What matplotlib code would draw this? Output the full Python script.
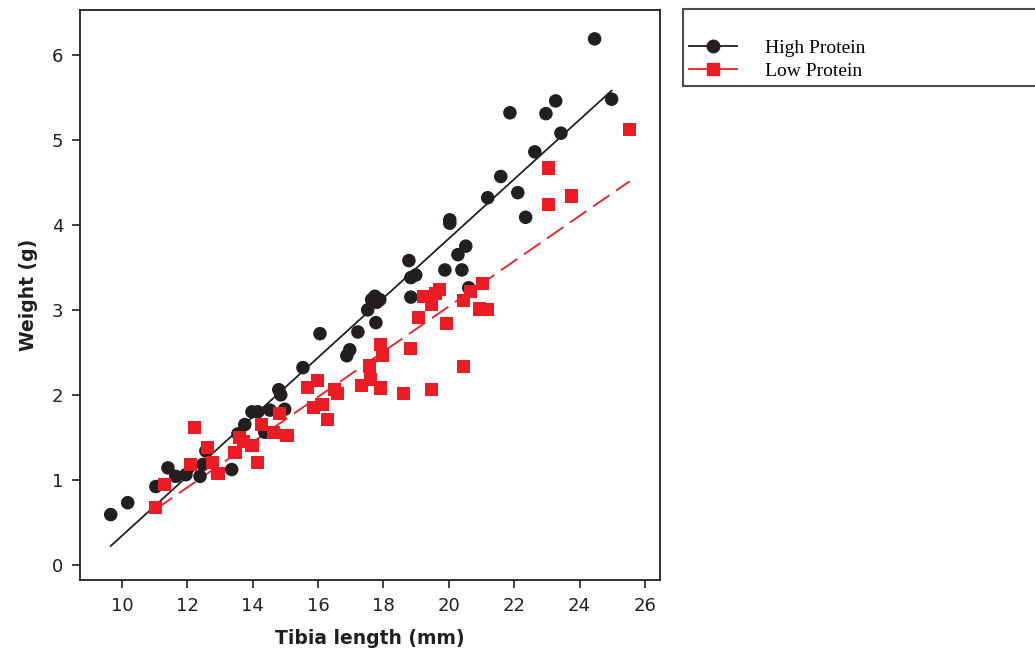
import matplotlib
matplotlib.use('Agg')
import matplotlib.pyplot as plt
import numpy as np
from matplotlib.lines import Line2D

# High Protein group (tibia length mm, weight g)
high_tibia = [9.66, 10.18, 11.04, 11.41, 11.65, 11.96, 12.39, 12.48, 12.57, 13.36,
              13.55, 13.76, 13.98, 14.16, 14.37, 14.53, 14.80, 14.86, 14.98, 15.54,
              16.06, 16.88, 16.97, 17.22, 17.52, 17.64, 17.74, 17.80, 17.77, 17.89,
              18.78, 18.84, 18.99, 18.84, 19.88, 20.03, 20.03, 20.28, 20.40, 20.52,
              20.61, 21.19, 21.59, 21.87, 22.11, 22.35, 22.63, 22.97, 23.27, 23.43,
              24.46, 24.98]
high_weight = [0.59, 0.73, 0.92, 1.14, 1.04, 1.06, 1.04, 1.18, 1.34, 1.12,
               1.54, 1.65, 1.80, 1.80, 1.56, 1.82, 2.06, 2.00, 1.83, 2.32,
               2.72, 2.46, 2.53, 2.74, 3.00, 3.12, 3.16, 3.09, 2.85, 3.12,
               3.58, 3.38, 3.41, 3.15, 3.47, 4.06, 4.02, 3.65, 3.47, 3.75,
               3.26, 4.32, 4.57, 5.32, 4.38, 4.09, 4.86, 5.31, 5.46, 5.08,
               6.19, 5.48]

# Low Protein group
low_tibia = [11.04, 11.31, 12.23, 12.11, 12.63, 12.78, 12.94, 13.46, 13.61, 13.73,
             13.98, 14.16, 14.28, 14.65, 14.83, 15.05, 15.69, 15.87, 15.99, 16.12,
             16.30, 16.51, 16.60, 17.34, 17.58, 17.61, 17.92, 17.98, 17.92, 18.62,
             18.84, 19.08, 19.24, 19.48, 19.48, 19.60, 19.72, 19.94, 20.46, 20.46,
             20.67, 20.95, 21.04, 21.19, 23.06, 23.06, 23.76, 25.53]
low_weight = [0.67, 0.94, 1.62, 1.18, 1.38, 1.20, 1.07, 1.32, 1.50, 1.45,
              1.40, 1.20, 1.65, 1.56, 1.78, 1.52, 2.09, 1.85, 2.17, 1.89,
              1.71, 2.06, 2.02, 2.11, 2.34, 2.18, 2.59, 2.46, 2.08, 2.02,
              2.55, 2.91, 3.16, 3.06, 2.06, 3.19, 3.24, 2.84, 2.33, 3.11,
              3.22, 3.01, 3.31, 3.00, 4.67, 4.24, 4.34, 5.12]

black = '#231f20'
red = '#ed1c24'

fig = plt.figure(figsize=(10.35, 6.52), dpi=100)
ax = fig.add_axes([80/1035, 1-580/652, 580/1035, 570/652])

# regression lines
for xs, ys, col, ls in [(high_tibia, high_weight, black, '-'),
                        (low_tibia, low_weight, red, (0, (11, 4.5)))]:
    b1, b0 = np.polyfit(xs, ys, 1)
    xx = np.array([min(xs), max(xs)])
    ax.plot(xx, b0 + b1*xx, color=col, lw=1.3, linestyle=ls, zorder=2)

ax.scatter(high_tibia, high_weight, s=95, marker='o', color=black, edgecolors='none', zorder=3)
ax.scatter(low_tibia, low_weight, s=90, marker='s', color=red, edgecolors='none', zorder=3)

ax.set_xlim(8.72, 26.46)
ax.set_ylim(-0.18, 6.53)
ax.set_xticks(range(10, 27, 2))
ax.set_yticks(range(0, 7))
ax.tick_params(direction='out', length=6, width=1.2, color=black, labelsize=13,
               labelcolor=black, pad=6, top=False, right=False)
for sp in ax.spines.values():
    sp.set_linewidth(1.3)
    sp.set_color(black)

ax.set_xlabel('Tibia length (mm)', fontsize=13.5, fontweight='bold', color=black, labelpad=10)
ax.set_ylabel('Weight (g)', fontsize=13.5, fontweight='bold', color=black, labelpad=10)

handles = [Line2D([], [], color=black, lw=1.3, marker='o', markersize=9),
           Line2D([], [], color=red, lw=1.3, marker='s', markersize=8.5)]
top = 1 - 9/652
leg = fig.legend(handles, ['High Protein', 'Low Protein'], loc='upper left',
                 bbox_to_anchor=(683/1035, top - 0.2, 360/1035, 0.2), mode='expand',
                 title=' ', title_fontsize=16, borderaxespad=0, frameon=True, fancybox=False,
                 handlelength=2.5, handletextpad=1.4, labelspacing=0.25, borderpad=0.3,
                 prop=dict(family='Liberation Serif', size=14))
leg.get_frame().set_edgecolor(black)
leg.get_frame().set_linewidth(1.5)

fig.savefig('out.png', dpi=100)
